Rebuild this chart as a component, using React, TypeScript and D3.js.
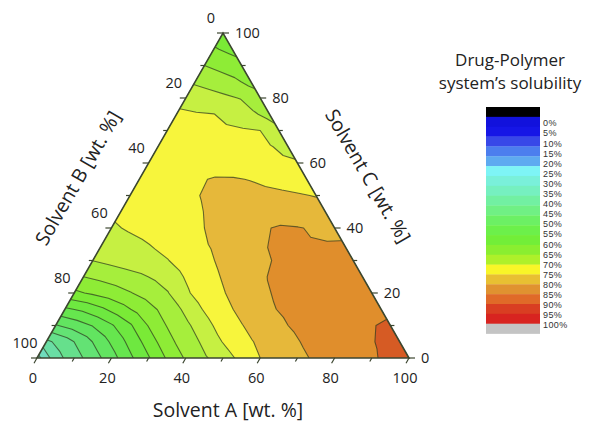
import React from 'react';
import * as d3 from 'd3';

// solubility [%] on a 5 wt.% grid.
// row k -> Solvent C = 5k, entries -> Solvent A = 0, 5, 10 ... (B = 100 - A - C)
const solubilityC0 = [13, 23, 27.8, 32.5, 37.9, 44, 49.6, 55.6, 60.6, 64.3, 67.8, 71.3, 75, 77, 79, 80.6, 81.9, 83.2, 84.5, 86, 87.5];
const solubilityC5 = [23.8, 27.7, 32.4, 37.9, 43.6, 49.3, 55.3, 60.5, 64, 68.5, 71.9, 74.7, 76.8, 78.9, 80.6, 81.8, 83, 84.2, 85.4, 86.6];
const solubilityC10 = [34.6, 37.2, 40.3, 44.4, 49.3, 55.3, 60.3, 63.8, 68.3, 72, 74.8, 77.1, 79.3, 80.7, 81.7, 82.8, 83.8, 84.8, 85.7];
const solubilityC15 = [44.1, 46.1, 49.2, 53, 56.7, 60.2, 63.8, 68.7, 72.1, 74.9, 77.3, 79.6, 80.7, 81.5, 82.3, 83.1, 83.9, 84.8];
const solubilityC20 = [54, 55.8, 57.7, 59.7, 62, 64.6, 69.3, 72.2, 74.7, 77, 79.3, 80.5, 81.1, 81.8, 82.4, 83, 83.7];
const solubilityC25 = [60, 61.4, 62.7, 64.1, 66, 69, 71.7, 74.2, 76.5, 78.6, 80.2, 80.7, 81.2, 81.6, 82.1, 82.6];
const solubilityC30 = [65.1, 66.3, 67.5, 68.6, 69.8, 71.8, 73.8, 76, 77.8, 79.6, 80.25, 80.5, 80.8, 81.1, 81.5];
const solubilityC35 = [67.3, 68.3, 69.3, 70.6, 72.2, 73.8, 75.5, 77.1, 78.7, 80.1, 80.2, 80.3, 80.3, 80.4];
const solubilityC40 = [69.4, 70.5, 71.6, 72.7, 73.8, 75, 76.4, 77.8, 79.3, 80.5, 80.2, 79.6, 78.7];
const solubilityC45 = [71, 71.9, 72.8, 73.8, 74.6, 75.5, 76.2, 76.8, 77.3, 77.5, 77.2, 76.7];
const solubilityC50 = [72, 72.8, 73.6, 74.4, 75.2, 75.7, 76, 76, 75.8, 75.4, 74.8];
const solubilityC55 = [72.8, 73.3, 73.9, 74.6, 75.2, 75.2, 74.9, 74.2, 73.4, 72.6];
const solubilityC60 = [73, 73.3, 73.6, 73.8, 73.8, 73.5, 72.8, 71.8, 70.4];
const solubilityC65 = [72.6, 72.6, 72.5, 72.3, 71.8, 71.1, 70.5, 67.9];
const solubilityC70 = [71.8, 71.6, 71.2, 71, 70.6, 70, 65.5];
const solubilityC75 = [70.8, 70.4, 70.1, 68.3, 66.2, 63.1];
const solubilityC80 = [68.4, 67.2, 66, 64.7, 60.9];
const solubilityC85 = [64.3, 63, 61.5, 58.3];
const solubilityC90 = [60, 58.2, 55.6];
const solubilityC95 = [55.5, 53.7];
const solubilityC100 = [52];

const solubilityRows = [
  solubilityC0, solubilityC5, solubilityC10, solubilityC15, solubilityC20, solubilityC25,
  solubilityC30, solubilityC35, solubilityC40, solubilityC45, solubilityC50, solubilityC55,
  solubilityC60, solubilityC65, solubilityC70, solubilityC75, solubilityC80, solubilityC85,
  solubilityC90, solubilityC95, solubilityC100,
];
const gridStep = 5;

const levels = [10, 15, 20, 25, 30, 35, 40, 45, 50, 55, 60, 65, 70, 75, 80, 85];
const levelColors = [
  '#7adcd2', '#6fdcbc', '#6adea4', '#66e08c', '#63e274', '#62e460', '#66e64e', '#6ee840',
  '#7aea36', '#8eec36', '#a6ee3c', '#c6f042', '#f7f53c', '#e6b83a', '#e08e2c', '#d65b24',
];

const legendLabels = ['0%', '5%', '10%', '15%', '20%', '25%', '30%', '35%', '40%', '45%', '50%',
  '55%', '60%', '65%', '70%', '75%', '80%', '85%', '90%', '95%', '100%'];
const legendColors = [
  '#000000', '#1212dc', '#1616e6', '#3848e8', '#4c7eee', '#5eaaf0', '#7ef4f6', '#7af0da',
  '#76f0c0', '#72f0a2', '#70f084', '#6cf064', '#6cf04a', '#72ee38', '#8aee30', '#aef02a',
  '#f8f628', '#e8c032', '#e09230', '#e06a28', '#d93e22', '#d82420', '#c4c4c4',
];

const majorTicks = [0, 20, 40, 60, 80, 100];
const minorTicks = [10, 30, 50, 70, 90];

const font = "'Open Sans', 'DejaVu Sans', sans-serif";

export default function App() {
  const width = 600, height = 428;

  const sx = d3.scaleLinear().domain([0, 100]).range([37, 409]);
  const sy = d3.scaleLinear().domain([0, 100]).range([358, 33]);
  // composition (A, C) -> screen
  const pos = (a: number, c: number): [number, number] => [sx(a + c / 2), sy(c)];

  const n = solubilityRows.length;
  const values: number[] = [];
  for (let j = 0; j < n; j++) {
    const row = solubilityRows[j];
    for (let i = 0; i < n; i++) values.push(row[Math.min(i, row.length - 1)]);
  }
  const bands = d3.contours().size([n, n]).thresholds(levels)(values);

  const projection = d3.geoTransform({
    point: function (x: number, y: number) {
      const a = (x - 0.5) * gridStep, c = (y - 0.5) * gridStep;
      const p = pos(a, c);
      (this as any).stream.point(p[0], p[1]);
    },
  });
  const path = d3.geoPath(projection);

  const tri = [pos(0, 0), pos(100, 0), pos(0, 100)];
  const triPath = 'M' + tri.map(p => p.join(',')).join('L') + 'Z';

  const allTicks = [...majorTicks, ...minorTicks];
  const legendTop = 107, legendStep = 9.85;

  return (
    <svg width={width} height={height} style={{ position: 'absolute', left: 0, top: 0, background: '#fff' }}>
      <defs>
        <clipPath id="tri-clip"><path d={triPath} /></clipPath>
      </defs>

      <g clipPath="url(#tri-clip)">
        {bands.map((b, i) => (
          <path key={i} d={path(b as any) || ''} fill={levelColors[i]}
            stroke="#2e3820" strokeOpacity={0.7} strokeWidth={1.1} strokeLinejoin="round" />
        ))}
      </g>
      <path d={triPath} fill="none" stroke="#3c4630" strokeWidth={1.6} />

      {/* ticks */}
      <g stroke="#3c4630" strokeWidth={1.2}>
        {allTicks.map(v => {
          const len = majorTicks.includes(v) ? 6 : 4;
          const pb = pos(v, 0), pl = pos(0, 100 - v), pr = pos(100 - v, v);
          return (
            <g key={v}>
              <line x1={pb[0]} y1={pb[1]} x2={pb[0] - len * 0.5} y2={pb[1] + len * 0.87} />
              <line x1={pl[0]} y1={pl[1]} x2={pl[0] - len} y2={pl[1]} />
              <line x1={pr[0]} y1={pr[1]} x2={pr[0] + len} y2={pr[1]} />
            </g>
          );
        })}
      </g>

      {/* tick labels */}
      <g fontFamily={font} fontSize={14.5} fill="#222">
        {majorTicks.map(v => {
          const pb = pos(v, 0), pl = pos(0, 100 - v), pr = pos(100 - v, v);
          return (
            <g key={v}>
              <text x={pb[0] - 4} y={pb[1] + 25} textAnchor="middle">{v}</text>
              <text x={pl[0] - 12} y={pl[1] - 10} textAnchor="middle">{v}</text>
              <text x={pr[0] + 12} y={pr[1] + 5} textAnchor="start">{v}</text>
            </g>
          );
        })}
      </g>

      {/* axis titles */}
      <g fontFamily={font} fontSize={19.5} fill="#222" textAnchor="middle">
        <text x={228} y={417}>Solvent A [wt. %]</text>
        <text transform="translate(78,178) rotate(-60)" dy="0.35em">Solvent B [wt. %]</text>
        <text transform="translate(368,176) rotate(60)" dy="0.35em">Solvent C [wt. %]</text>
      </g>

      {/* legend */}
      <g fontFamily={font} fontSize={17} fill="#222" textAnchor="middle">
        <text x={510} y={66}>Drug-Polymer</text>
        <text x={510} y={89}>system’s solubility</text>
      </g>
      <g>
        {legendColors.map((c, i) => (
          <rect key={i} x={486} y={legendTop + i * legendStep} width={54} height={legendStep + 0.3} fill={c} />
        ))}
      </g>
      <g fontFamily="'Liberation Sans', Arial, sans-serif" fontSize={9} fill="#333" letterSpacing={0.4}>
        {legendLabels.map((t, i) => (
          <text key={t} x={543} y={legendTop + 17 + i * 10.1} dominantBaseline="middle">{t}</text>
        ))}
      </g>
    </svg>
  );
}
